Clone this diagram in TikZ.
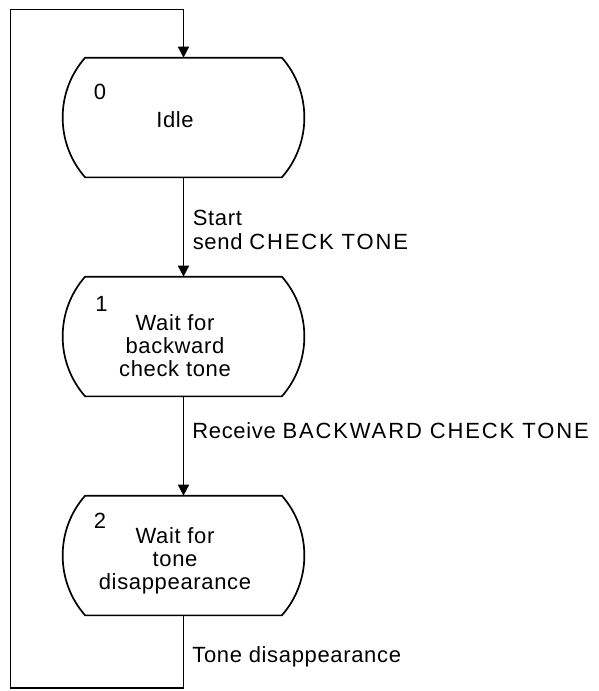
\documentclass[tikz,border=0pt]{standalone}
\usepackage{fontspec}
\setmainfont{Liberation Sans}[LetterSpace=3]
\newfontfamily\capsf{Liberation Sans}[LetterSpace=8.5]
\usetikzlibrary{arrows.meta,calc}
\begin{document}
\begin{tikzpicture}[x=1pt,y=-1pt, line width=1.7pt,
  statebox/.style={minimum width=195pt, minimum height=118pt, inner sep=0pt},
  boxtext/.style={font=\fontsize{22}{23}\selectfont, align=center, inner sep=0pt, anchor=north},
  numtext/.style={font=\fontsize{22}{23}\selectfont, inner sep=0pt, anchor=base west},
  lbl/.style={font=\fontsize{22}{24}\selectfont, align=left, inner sep=0pt},
  arr/.style={-{Triangle[width=11pt,length=11pt]}}]
\useasboundingbox (0,0) rectangle (598,691);
\node[statebox] (s0) at (183.5,117.5) {};
\node[statebox] (s1) at (183.5,336.5) {};
\node[statebox] (s2) at (183.5,555.5) {};
\foreach \s in {s0,s1,s2}{
  \draw (\s.north west) -- (\s.north east)
    .. controls ($(\s.north east)+(30,34)$) and ($(\s.south east)+(30,-34)$) .. (\s.south east)
    -- (\s.south west)
    .. controls ($(\s.south west)+(-30,-34)$) and ($(\s.north west)+(-30,34)$) .. cycle;
}
\node[boxtext] (t0) at (175,111) {Idle};
\node[boxtext] (t1) at (175,313.3) {Wait for\\backward\\check tone};
\node[boxtext] (t2) at (175,527) {Wait for\\tone\\disappearance};
\node[numtext] (n0) at (93,99) {0};
\node[numtext] (n1) at (94.5,311) {1};
\node[numtext] (n2) at (93,528) {2};
\draw[arr] (s0.south) -- (s1.north);
\draw[arr] (s1.south) -- (s2.north);
\coordinate (c1) at (183.5,688);
\coordinate (c2) at (10.5,688);
\coordinate (c3) at (10.5,9.5);
\coordinate (c4) at (183.5,9.5);
\draw[arr] (s2.south) -- (c1) -- (c2) -- (c3) -- (c4) -- (s0.north);
\node[lbl, anchor=north west] (l0) at (192,209) {Start\\send {\capsf CHECK TONE}};
\node[lbl, anchor=base west] (l1) at (191.5,438) {Receive {\capsf BACKWARD CHECK TONE}};
\node[lbl, anchor=base west] (l2) at (191.5,662.5) {Tone disappearance};
\end{tikzpicture}
\end{document}
